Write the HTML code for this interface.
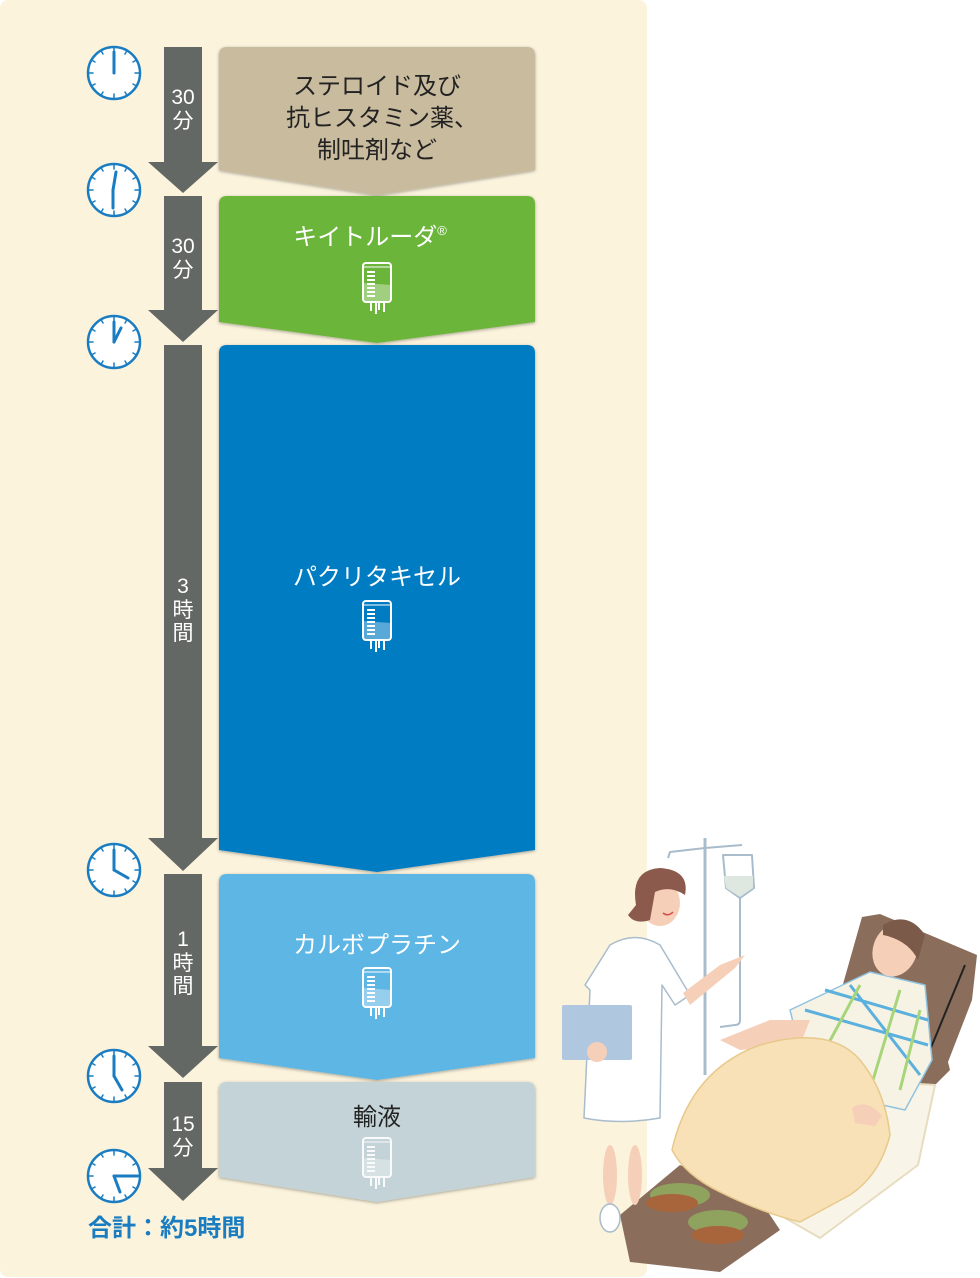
<!DOCTYPE html>
<html><head><meta charset="utf-8"><style>
html,body{margin:0;padding:0;background:#fff}
svg{display:block}
text{font-family:"Liberation Sans","Noto Sans CJK JP",sans-serif}
</style></head><body>
<svg width="980" height="1278" viewBox="0 0 980 1278" xmlns="http://www.w3.org/2000/svg">
<defs>
<g id="bag">
  <path d="M1 21 L29 23 L29 38 Q29 40 27 40 L3 40 Q1 40 1 38 Z" fill="#fff" fill-opacity="0.35"/>
  <rect x="1" y="1" width="28" height="39" rx="3" fill="none" stroke="#fff" stroke-width="2"/>
  <line x1="1" y1="5" x2="29" y2="5" stroke="#fff" stroke-width="1"/>
  <g stroke="#fff" stroke-width="2">
    <line x1="5" y1="10" x2="13" y2="10"/><line x1="5" y1="14" x2="13" y2="14"/>
    <line x1="5" y1="18" x2="13" y2="18"/><line x1="5" y1="22" x2="13" y2="22"/>
    <line x1="5" y1="26" x2="13" y2="26"/><line x1="5" y1="30" x2="13" y2="30"/>
    <line x1="5" y1="34" x2="13" y2="34"/>
    <line x1="9" y1="40" x2="9" y2="49"/><line x1="14" y1="40" x2="14" y2="52"/>
    <line x1="17" y1="40" x2="17" y2="48"/><line x1="22" y1="40" x2="22" y2="50"/>
  </g>
</g>
<g id="clock">
  <circle cx="0" cy="0" r="26" fill="#fff" stroke="#1a7cc1" stroke-width="2.5"/>
  <g stroke="#1a7cc1" stroke-width="1.5">
    <line x1="0" y1="-26" x2="0" y2="-21"/><line x1="0" y1="26" x2="0" y2="21"/>
    <line x1="-26" y1="0" x2="-21" y2="0"/><line x1="26" y1="0" x2="21" y2="0"/>
    <line x1="13" y1="-22.5" x2="11" y2="-19"/><line x1="22.5" y1="-13" x2="19" y2="-11"/>
    <line x1="22.5" y1="13" x2="19" y2="11"/><line x1="13" y1="22.5" x2="11" y2="19"/>
    <line x1="-13" y1="22.5" x2="-11" y2="19"/><line x1="-22.5" y1="13" x2="-19" y2="11"/>
    <line x1="-22.5" y1="-13" x2="-19" y2="-11"/><line x1="-13" y1="-22.5" x2="-11" y2="-19"/>
  </g>
</g>
<filter id="sh" x="-5%" y="-5%" width="110%" height="110%"><feDropShadow dx="0" dy="1" stdDeviation="1.5" flood-opacity="0.35"/></filter>
</defs>

<rect x="0" y="0" width="647" height="1277" rx="8" fill="#fbf3dc"/>

<g fill="#636864">
  <polygon points="164,47 202,47 202,162 218,162 183,193 148,162 164,162"/>
  <polygon points="164,196 202,196 202,310 218,310 183,342 148,310 164,310"/>
  <polygon points="164,345 202,345 202,838 218,838 183,871 148,838 164,838"/>
  <polygon points="164,874 202,874 202,1046 218,1046 183,1078 148,1046 164,1046"/>
  <polygon points="164,1082 202,1082 202,1168 218,1168 183,1201 148,1168 164,1168"/>
</g>
<g fill="#fff" font-size="21" text-anchor="middle">
  <text x="183" y="104">30</text><text x="183" y="128">分</text>
  <text x="183" y="253">30</text><text x="183" y="277">分</text>
  <text x="183" y="593">3</text><text x="183" y="617">時</text><text x="183" y="640">間</text>
  <text x="183" y="946">1</text><text x="183" y="970">時</text><text x="183" y="993">間</text>
  <text x="183" y="1131">15</text><text x="183" y="1155">分</text>
</g>

<g filter="url(#sh)">
<path d="M219 55 Q219 47 227 47 L527 47 Q535 47 535 55 L535 170 L377 195 L219 170 Z" fill="#c9bb9e"/>
<path d="M219 204 Q219 196 227 196 L527 196 Q535 196 535 204 L535 322 L377 343 L219 322 Z" fill="#6cb53a"/>
<path d="M219 353 Q219 345 227 345 L527 345 Q535 345 535 353 L535 850 L377 872 L219 850 Z" fill="#007cc3"/>
<path d="M219 882 Q219 874 227 874 L527 874 Q535 874 535 882 L535 1058 L377 1080 L219 1058 Z" fill="#5db6e4"/>
<path d="M219 1090 Q219 1082 227 1082 L527 1082 Q535 1082 535 1090 L535 1177 L377 1202 L219 1177 Z" fill="#c3d3d7"/>
</g>
<g font-size="24" text-anchor="middle">
  <text x="377" y="94" fill="#222">ステロイド及び</text>
  <text x="382" y="126" fill="#222">抗ヒスタミン薬、</text>
  <text x="377" y="158" fill="#222">制吐剤など</text>
  <text x="370" y="245" fill="#fff">キイトルーダ<tspan font-size="13" dy="-10">®</tspan></text>
  <text x="377" y="585" fill="#fff">パクリタキセル</text>
  <text x="377" y="953" fill="#fff">カルボプラチン</text>
  <text x="377" y="1125" fill="#222">輸液</text>
</g>
<use href="#bag" x="362" y="262"/>
<use href="#bag" x="362" y="600"/>
<use href="#bag" x="362" y="967"/>
<use href="#bag" x="362" y="1137" opacity="0.9"/>

<g stroke="#1a7cc1" stroke-width="3" stroke-linecap="round">
  <use href="#clock" x="114" y="73"/><line x1="114" y1="73" x2="114" y2="52"/>
  <use href="#clock" x="114" y="190"/><line x1="116" y1="172" x2="113" y2="190"/><line x1="113" y1="190" x2="113" y2="208"/>
  <use href="#clock" x="114" y="342"/><line x1="114" y1="342" x2="114" y2="322"/><line x1="114" y1="342" x2="121" y2="328"/>
  <use href="#clock" x="114" y="870"/><line x1="114" y1="870" x2="114" y2="850"/><line x1="114" y1="870" x2="128" y2="878"/>
  <use href="#clock" x="114" y="1076"/><line x1="114" y1="1076" x2="114" y2="1056"/><line x1="114" y1="1076" x2="122" y2="1090"/>
  <use href="#clock" x="114" y="1176"/><line x1="114" y1="1176" x2="138" y2="1176"/><line x1="114" y1="1176" x2="120" y2="1192"/>
</g>
<text x="88" y="1236" font-size="24" font-weight="bold" fill="#1a7cc1">合計：約5時間</text>

<g stroke-linejoin="round">
  <line x1="705" y1="838" x2="705" y2="1075" stroke="#a9bccb" stroke-width="3"/>
  <polyline points="668,858 670,852 705,848 742,845" fill="none" stroke="#a9bccb" stroke-width="2"/>
  <path d="M723 855 L752 855 L754 888 L740 898 L726 888 Z" fill="#fff" stroke="#a9bccb" stroke-width="2"/>
  <path d="M724 876 L753 876 L753 888 L740 897 L726 888 Z" fill="#dfe8e0"/>
  <path d="M740 898 L740 1020 Q740 1025 735 1025 L720 1027" fill="none" stroke="#a9bccb" stroke-width="2"/>
  <polygon points="862,917 880,914 977,955 972,1000 948,1062 950,1070 930,1090 880,1115 860,1080 830,1030" fill="#8a6e5b"/>
  <polygon points="855,1080 935,1085 918,1165 820,1238 780,1215 800,1150" fill="#f8f5e8" stroke="#e8dcc0" stroke-width="2"/>
  <polygon points="620,1215 680,1165 760,1200 780,1230 720,1272 630,1262" fill="#8a6e5b"/>
  <line x1="965" y1="965" x2="930" y2="1050" stroke="#222" stroke-width="2"/>
  <ellipse cx="680" cy="1195" rx="30" ry="12" fill="#8fa35e"/>
  <ellipse cx="718" cy="1222" rx="30" ry="12" fill="#8fa35e"/>
  <ellipse cx="672" cy="1203" rx="26" ry="9" fill="#a8643a"/>
  <ellipse cx="718" cy="1235" rx="26" ry="9" fill="#a8643a"/>
  <polygon points="790,1010 870,972 925,985 932,1060 905,1110 860,1100 800,1050" fill="#f7f3e4" stroke="#8fc3e0" stroke-width="1.5"/>
  <g stroke="#5bb0de" stroke-width="3"><line x1="805" y1="1010" x2="928" y2="1045"/><line x1="825" y1="990" x2="928" y2="1020"/><line x1="850" y1="985" x2="920" y2="1075"/></g>
  <g stroke="#a8d57a" stroke-width="3"><line x1="860" y1="985" x2="825" y2="1050"/><line x1="900" y1="990" x2="870" y2="1090"/><line x1="920" y1="1010" x2="900" y2="1090"/></g>
  <ellipse cx="895" cy="950" rx="22" ry="27" fill="#f6cfb8" transform="rotate(20 895 950)"/>
  <path d="M883 925 Q908 910 925 935 L918 960 Q908 940 883 935 Z" fill="#7b5a4a"/>
  <path d="M720 1040 L770 1020 L810 1020 L800 1045 L740 1050 Z" fill="#f6cfb8"/>
  <path d="M672 1150 Q690 1070 760 1045 Q830 1025 860 1060 Q885 1090 890 1135 Q880 1175 850 1195 L800 1222 Q760 1212 720 1192 Q685 1175 672 1150 Z" fill="#f8e1b6" stroke="#e8c98c" stroke-width="1.5"/>
  <path d="M852 1108 Q867 1098 882 1116 L875 1126 L855 1123 Z" fill="#f6cfb8"/>
  <ellipse cx="610" cy="1175" rx="7" ry="30" fill="#f6cfb8"/>
  <ellipse cx="635" cy="1175" rx="7" ry="30" fill="#f6cfb8"/>
  <ellipse cx="610" cy="1218" rx="10" ry="14" fill="#fff" stroke="#a9bccb" stroke-width="1.5"/>
  <path d="M610 945 Q635 930 660 945 L690 995 L675 1005 L662 985 L660 1118 Q620 1125 584 1118 L590 990 L585 985 Z" fill="#fff" stroke="#a9bccb" stroke-width="1.5"/>
  <path d="M683 993 L720 965 L745 955 L735 968 L690 1005 Z" fill="#f6cfb8"/>
  <rect x="562" y="1005" width="70" height="55" rx="2" fill="#afc7df"/>
  <ellipse cx="597" cy="1052" rx="10" ry="10" fill="#f6cfb8"/>
  <ellipse cx="660" cy="903" rx="20" ry="23" fill="#f6cfb8"/>
  <path d="M636 905 Q630 870 660 868 Q690 870 685 895 Q670 885 655 892 L650 920 Q635 925 628 915 Z" fill="#8c5a4c"/>
  <path d="M663 913 Q668 917 673 912" stroke="#d94c4c" stroke-width="1.5" fill="none"/>
</g>
</svg>
</body></html>
